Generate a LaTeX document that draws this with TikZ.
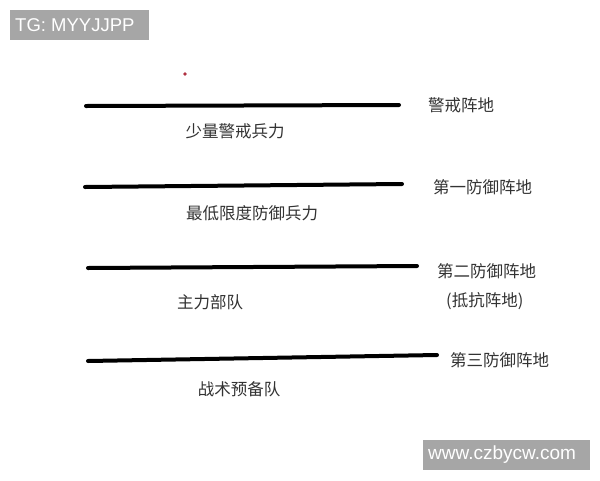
\documentclass[tikz,border=0pt]{standalone}
\usepackage{fontspec}
\setmainfont{Liberation Sans}
\newfontfamily\cjk{Noto Sans CJK SC}
\definecolor{wmgray}{HTML}{A6A6A6}
\definecolor{txtgray}{HTML}{333333}
\definecolor{dotred}{HTML}{B03040}
\begin{document}
\begin{tikzpicture}[x=1pt,y=-1pt,
  defline/.style={line width=4pt,line cap=round,black},
  lab/.style={font=\cjk\fontsize{16.5}{18}\selectfont,text=txtgray,inner sep=0pt,anchor=west},
  sublab/.style={font=\cjk\fontsize{16.5}{18}\selectfont,text=txtgray,inner sep=0pt},
  wmbox/.style={fill=wmgray,text=white,inner sep=0pt,anchor=north west}]
\useasboundingbox (0,0) rectangle (600,480);
\fill[white] (0,0) rectangle (600,480);
% watermarks
\node[wmbox,minimum width=139pt,minimum height=30pt] (tg) at (10,10) {};
\node[font=\fontsize{18.5}{20}\selectfont,text=white,anchor=west,inner sep=0pt] (tgt) at (15,25) {TG: MYYJJPP};
\node[wmbox,minimum width=167pt,minimum height=30pt] (wm) at (423,440) {};
\node[font=\fontsize{19}{21}\selectfont,text=white,anchor=west,inner sep=0pt] (wmt) at (428,455) {www.czbycw.com};
% red dot
\fill[dotred] (185,74) circle (1.8pt);
% lines
\coordinate (a1) at (86,106); \coordinate (b1) at (399,105);
\coordinate (a2) at (85,187); \coordinate (b2) at (402,184);
\coordinate (a3) at (88,268); \coordinate (b3) at (417,266);
\coordinate (a4) at (88,361); \coordinate (b4) at (437,355);
\draw[defline] (a1) -- (b1);
\draw[defline] (a2) -- (b2);
\draw[defline] (a3) -- (b3);
\draw[defline] (a4) -- (b4);
% right labels
\node[lab] (r1) at (428,105) {警戒阵地};
\node[lab] (r2) at (433,187) {第一防御阵地};
\node[lab] (r3) at (437,271) {第二防御阵地};
\node[lab] (r3b) at (446,301) {(抵抗阵地)};
\node[lab] (r4) at (450,360) {第三防御阵地};
% force labels
\node[sublab] (f1) at (235,131) {少量警戒兵力};
\node[sublab] (f2) at (252,213) {最低限度防御兵力};
\node[sublab] (f3) at (210,302) {主力部队};
\node[sublab] (f4) at (239,389) {战术预备队};
\end{tikzpicture}
\end{document}
